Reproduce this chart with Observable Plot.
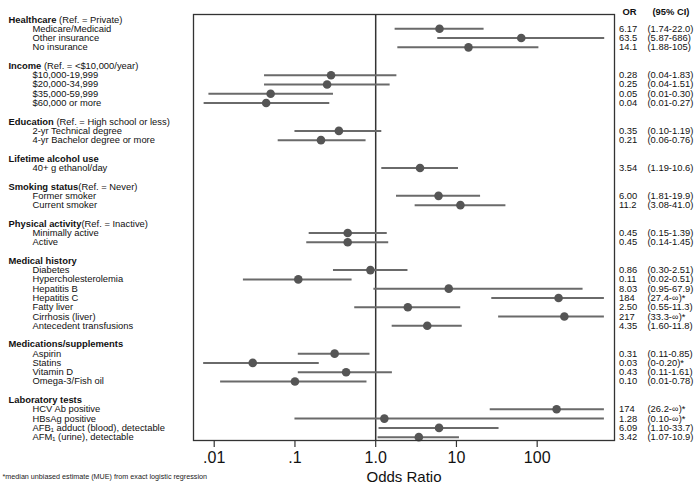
<!DOCTYPE html>
<html>
<head>
<meta charset="utf-8">
<script src="https://cdn.jsdelivr.net/npm/d3@7"></script>
<script src="https://cdn.jsdelivr.net/npm/@observablehq/plot@0.6"></script>
<style>
  html, body { margin: 0; padding: 0; background: #fff; }
  #chart svg { display: block; font-family: "Liberation Sans", Arial, sans-serif; }
</style>
</head>
<body>
<div id="chart"></div>
<script>
// ---- data ----
const headers = ["Healthcare", "Income", "Education", "Lifetime alcohol use", "Smoking status",
  "Physical activity", "Medical history", "Medications/supplements", "Laboratory tests"];
const refs = [" (Ref. = Private)", " (Ref. = <$10,000/year)", " (Ref. = High school or less)", "",
  "(Ref. = Never)", "(Ref. = Inactive)", "", "", ""];
const groupSizes = [3, 4, 2, 1, 2, 2, 7, 4, 4];
const items = [
  "Medicare/Medicaid", "Other insurance", "No insurance",
  "$10,000-19,999", "$20,000-34,999", "$35,000-59,999", "$60,000 or more",
  "2-yr Technical degree", "4-yr Bachelor degree or more",
  "40+ g ethanol/day",
  "Former smoker", "Current smoker",
  "Minimally active", "Active",
  "Diabetes", "Hypercholesterolemia", "Hepatitis B", "Hepatitis C", "Fatty liver", "Cirrhosis (liver)", "Antecedent transfusions",
  "Aspirin", "Statins", "Vitamin D", "Omega-3/Fish oil",
  "HCV Ab positive", "HBsAg positive", "AFB\u2081 adduct (blood), detectable", "AFM\u2081 (urine), detectable"
];
const INF = 680; // upper CI drawn to the plot edge when infinite
const orVals = [6.17, 63.5, 14.1, 0.28, 0.25, 0.05, 0.044, 0.35, 0.21, 3.54, 6.00, 11.2, 0.45, 0.45,
  0.86, 0.11, 8.03, 184, 2.50, 217, 4.35, 0.31, 0.03, 0.43, 0.10, 174, 1.28, 6.09, 3.42];
const loVals = [1.74, 5.87, 1.88, 0.042, 0.042, 0.0086, 0.0075, 0.10, 0.062, 1.19, 1.81, 3.08, 0.15, 0.14,
  0.30, 0.023, 0.95, 27.4, 0.55, 33.3, 1.60, 0.11, 0.0074, 0.11, 0.012, 26.2, 0.10, 1.10, 1.07];
const hiVals = [22.0, 686, 105, 1.83, 1.51, 0.30, 0.27, 1.19, 0.76, 10.6, 19.9, 41.0, 1.39, 1.45,
  2.51, 0.51, 370, INF, 11.3, INF, 11.8, 0.85, 0.20, 1.61, 0.78, INF, INF, 33.7, 10.9];
const orLabels = ["6.17", "63.5", "14.1", "0.28", "0.25", "0.05", "0.04", "0.35", "0.21", "3.54", "6.00", "11.2",
  "0.45", "0.45", "0.86", "0.11", "8.03", "184", "2.50", "217", "4.35", "0.31", "0.03", "0.43", "0.10",
  "174", "1.28", "6.09", "3.42"];
const ciLabels = ["(1.74-22.0)", "(5.87-686)", "(1.88-105)", "(0.04-1.83)", "(0.04-1.51)", "(0.01-0.30)", "(0.01-0.27)",
  "(0.10-1.19)", "(0.06-0.76)", "(1.19-10.6)", "(1.81-19.9)", "(3.08-41.0)", "(0.15-1.39)", "(0.14-1.45)",
  "(0.30-2.51)", "(0.02-0.51)", "(0.95-67.9)", "(27.4-\u221e)*", "(0.55-11.3)", "(33.3-\u221e)*", "(1.60-11.8)",
  "(0.11-0.85)", "(0-0.20)*", "(0.11-1.61)", "(0.01-0.78)",
  "(26.2-\u221e)*", "(0.10-\u221e)*", "(1.10-33.7)", "(1.07-10.9)"];
const tickVals = [0.01, 0.1, 1, 10, 100];
const tickLabels = [".01", ".1", "1.0", "10", "100"];
const footnote = "*median unbiased estimate (MUE) from exact logistic regression";

// ---- build rows ----
const headerRows = [];
const itemRows = [];
let r = 0, k = 0;
groupSizes.forEach((n, g) => {
  headerRows.push({row: r, name: headers[g], ref: refs[g]});
  for (let j = 1; j <= n; j++, k++) {
    itemRows.push({row: r + j, name: items[k], or: orVals[k], lo: loVals[k], hi: hiVals[k],
      orl: orLabels[k], cil: ciLabels[k]});
  }
  r += n + 2;
});
const lastRow = r - 2;

const font = "Liberation Sans, Arial, sans-serif";
const narrow = "Liberation Sans Narrow, Arial Narrow, Liberation Sans, sans-serif";
const dark = "#333";
const fs = 9.4;

const plot = Plot.plot({
  width: 698,
  height: 484,
  marginLeft: 193,
  marginRight: 84,
  marginTop: 14,
  marginBottom: 44,
  style: {fontFamily: font, background: "#fff"},
  x: {type: "log", domain: [0.00554, 907]},
  y: {domain: [lastRow + 0.36, -0.54], axis: null},
  marks: [
    Plot.ruleX([1], {stroke: dark, strokeWidth: 1.5}),
    Plot.ruleY(itemRows, {y: "row", x1: "lo", x2: "hi", stroke: "#6a6a6a", strokeWidth: 2}),
    Plot.dot(itemRows, {x: "or", y: "row", r: 4.3, fill: "#555", stroke: "none"}),
    Plot.frame({stroke: dark, strokeWidth: 1.3}),
    Plot.axisX({ticks: tickVals, tickFormat: d => tickLabels[tickVals.indexOf(d)], tickSize: 7,
      tickPadding: 4, fontSize: 16, label: null, stroke: dark, color: "#111", strokeWidth: 1.2}),
    // left labels
    Plot.text(headerRows, {y: "row", text: "name", frameAnchor: "left", dx: -185, textAnchor: "start",
      fontSize: fs, fontWeight: "bold", fill: "#111", className: "hdr"}),
    Plot.text(itemRows, {y: "row", text: "name", frameAnchor: "left", dx: -161, textAnchor: "start",
      fontSize: fs, fill: "#111"}),
    // right columns
    Plot.text(itemRows, {y: "row", text: "orl", frameAnchor: "right", dx: 4.5, textAnchor: "start",
      fontSize: fs, fill: "#111", fontFamily: narrow}),
    Plot.text(itemRows, {y: "row", text: "cil", frameAnchor: "right", dx: 33, textAnchor: "start",
      fontSize: fs, fill: "#111"}),
    Plot.text(["OR"], {frameAnchor: "top-right", dx: 15, dy: -2.5, textAnchor: "middle", lineAnchor: "middle",
      fontSize: fs, fontWeight: "bold", fill: "#111", fontFamily: narrow}),
    Plot.text(["(95% CI)"], {frameAnchor: "top-right", dx: 38, dy: -2.5, textAnchor: "start", lineAnchor: "middle",
      fontSize: fs, fontWeight: "bold", fill: "#111"}),
    // axis title and footnote
    Plot.text(["Odds Ratio"], {frameAnchor: "bottom", dy: 36.5, lineAnchor: "middle", fontSize: 15, fill: "#111"}),
    Plot.text([footnote], {frameAnchor: "bottom-left", dx: -191, dy: 36.5, textAnchor: "start", lineAnchor: "middle",
      fontSize: 7.2, fill: "#222"})
  ]
});

// mixed weights in group headers: bold name + normal reference text
d3.select(plot).selectAll("g.hdr text").each(function(_, i) {
  const h = headerRows[i];
  const t = d3.select(this);
  t.text(null);
  t.append("tspan").attr("font-weight", "bold").text(h.name);
  if (h.ref) t.append("tspan").attr("font-weight", "normal").text(h.ref);
});

document.getElementById("chart").appendChild(plot);
</script>
</body>
</html>
